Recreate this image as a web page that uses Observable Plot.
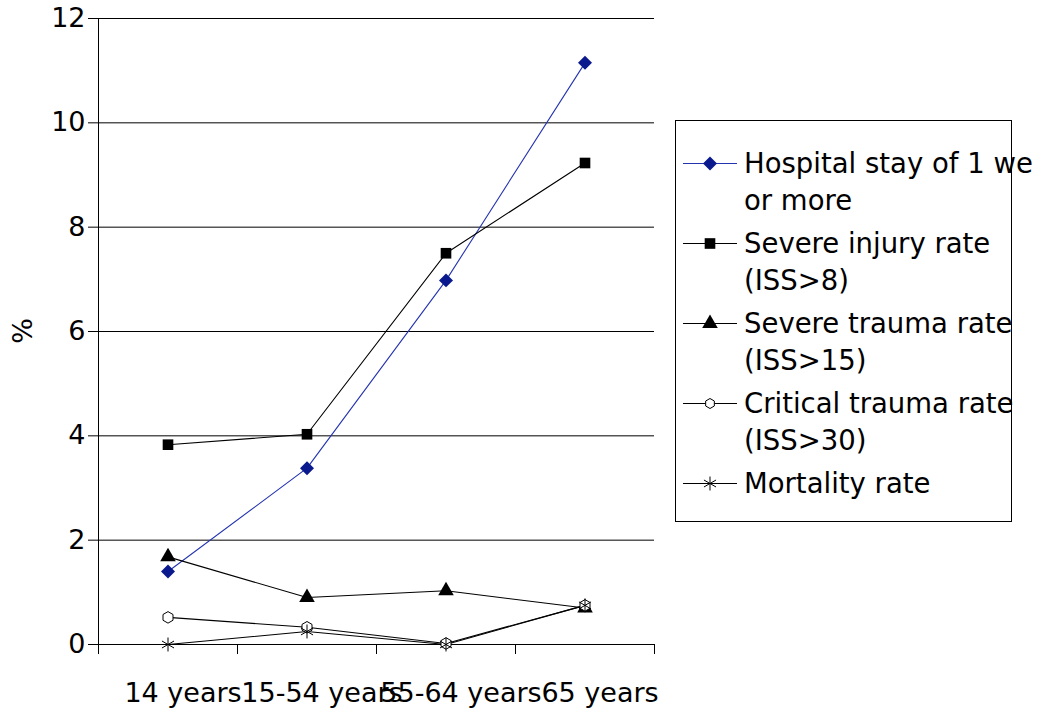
<!DOCTYPE html>
<html>
<head>
<meta charset="utf-8">
<script src="https://cdn.jsdelivr.net/npm/d3@7"></script>
<script src="https://cdn.jsdelivr.net/npm/@observablehq/plot@0.6"></script>
<style>
  html, body { margin: 0; padding: 0; background: #fff; }
  body { width: 1045px; height: 713px; position: relative; overflow: hidden; font-family: "DejaVu Sans", sans-serif; }
  #chart { position: absolute; left: 0; top: 0; }
  #ylabel { position: absolute; left: 22px; top: 331px; transform: translate(-50%, -50%) rotate(-90deg); font-size: 27px; line-height: 1; color: #000; }
  #legend { position: absolute; left: 675px; top: 120px; width: 337px; height: 402px; border: 1px solid #000; box-sizing: border-box; padding-top: 24px; font-size: 27.5px; line-height: 37px; color: #000; }
  .entry { display: flex; align-items: flex-start; margin-bottom: 6px; }
  .entry svg { flex: none; margin-left: 7px; margin-right: 7px; }
  .entry .lbl { white-space: nowrap; }
</style>
</head>
<body>
<div id="chart"></div>
<div id="ylabel">%</div>
<div id="legend"></div>
<script>
// ---- data ----
const categories = ["14 years", "15-54 years", "55-64 years", "65 years"];
const seriesNames = [
  ["Hospital stay of 1 we", "or more"],
  ["Severe injury rate", "(ISS>8)"],
  ["Severe trauma rate", "(ISS>15)"],
  ["Critical trauma rate", "(ISS>30)"],
  ["Mortality rate"]
];
const hospitalStay   = [1.40, 3.38, 6.98, 11.15];
const severeInjury   = [3.83, 4.03, 7.50, 9.23];
const severeTrauma   = [1.68, 0.90, 1.03, 0.70];
const criticalTrauma = [0.52, 0.33, 0.02, 0.75];
const mortality      = [0.00, 0.25, 0.00, 0.75];
const yTicks = [0, 2, 4, 6, 8, 10, 12];

// ---- styles ----
const styles = [
  {values: hospitalStay,   line: "#2433b0", symbol: "diamond2", r: 6.3, fill: "#0a1a8e", stroke: "none"},
  {values: severeInjury,   line: "#000",    symbol: "square",   r: 6.0, fill: "#000",    stroke: "none"},
  {values: severeTrauma,   line: "#000",    symbol: "triangle", r: 5.8, fill: "#000",    stroke: "none"},
  {values: criticalTrauma, line: "#000",    symbol: "hexagon",  r: 5.0, fill: "#fff",    stroke: "#000"},
  {values: mortality,      line: "#000",    symbol: "asterisk", r: 6.6, fill: "none",    stroke: "#000"}
];

const rowsOf = (vals) => vals.map((v, i) => ({i, v}));
const bounds = d3.range(categories.length + 1).map(k => k - 0.5);

const marks = [
  Plot.gridY(yTicks, {stroke: "#000", strokeOpacity: 1, strokeWidth: 1}),
  Plot.ruleX([bounds[0]], {stroke: "#000"}),
  Plot.ruleY([0], {stroke: "#000"}),
  Plot.axisX(bounds, {tickSize: 10, tickFormat: () => "", label: null, stroke: "#000"}),
  Plot.axisX(d3.range(categories.length), {tickSize: 0, tickPadding: 38, tickFormat: i => categories[i], dx: 15, label: null, fontSize: 27}),
  Plot.axisY(yTicks, {tickSize: 10, tickPadding: 3, fontSize: 27, tickFormat: d => String(d), label: null, stroke: "#000"})
];
for (const s of styles) {
  marks.push(Plot.line(rowsOf(s.values), {x: "i", y: "v", stroke: s.line, strokeWidth: 1.1}));
}
for (const s of styles) {
  marks.push(Plot.dot(rowsOf(s.values), {x: "i", y: "v", symbol: s.symbol, r: s.r, fill: s.fill, stroke: s.stroke, strokeWidth: 1}));
}

const chart = Plot.plot({
  width: 1045,
  height: 713,
  marginLeft: 98,
  marginRight: 391,
  marginTop: 18,
  marginBottom: 69,
  style: {fontFamily: "DejaVu Sans", fontSize: "27px", color: "#000", background: "#fff", overflow: "visible"},
  x: {type: "linear", domain: [bounds[0], bounds[bounds.length - 1]]},
  y: {domain: [0, 12]},
  marks
});
document.getElementById("chart").appendChild(chart);

// ---- legend ----
const symMap = {diamond2: d3.symbolDiamond2, square: d3.symbolSquare, triangle: d3.symbolTriangle, asterisk: d3.symbolAsterisk};
const legend = d3.select("#legend");
styles.forEach((s, k) => {
  const e = legend.append("div").attr("class", "entry");
  const svg = e.append("svg").attr("width", 54).attr("height", 37);
  svg.append("line").attr("x1", 0).attr("x2", 54).attr("y1", 18.5).attr("y2", 18.5).attr("stroke", s.line).attr("stroke-width", 1.1);
  const size = Math.PI * s.r * s.r;
  let d;
  if (s.symbol === "hexagon") {
    const rr = s.r;
    d = d3.range(6).map(j => { const a = Math.PI / 3 * j + Math.PI / 6; return [rr * Math.cos(a), rr * Math.sin(a)]; });
    d = "M" + d.join("L") + "Z";
  } else {
    d = d3.symbol(symMap[s.symbol], size)();
  }
  svg.append("path").attr("d", d).attr("transform", "translate(27,18.5)").attr("fill", s.fill).attr("stroke", s.stroke);
  const t = e.append("div").attr("class", "lbl");
  t.html(seriesNames[k].join("<br>"));
});
</script>
</body>
</html>
